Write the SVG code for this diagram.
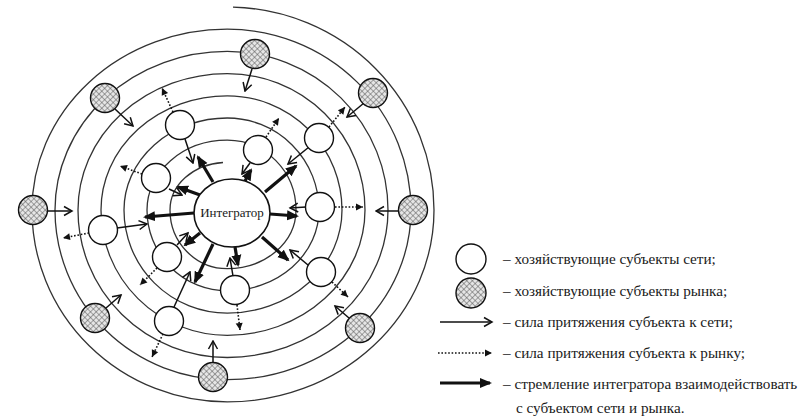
<svg xmlns="http://www.w3.org/2000/svg" width="811" height="417" viewBox="0 0 811 417">
  <style>
    .spiral { fill: none; stroke: #333; stroke-width: 1.3; }
    .net { fill: #fff; stroke: #111; stroke-width: 1.4; }
    .mkt { fill: url(#hatch); stroke: #111; stroke-width: 1.4; }
    .hub { fill: #fff; stroke: #111; stroke-width: 1.6; }
    .pull-net { fill: none; stroke: #111; stroke-width: 1.5; marker-end: url(#open); }
    .pull-mkt { fill: none; stroke: #111; stroke-width: 1.6; stroke-dasharray: 1.6 1.8; marker-end: url(#dot-head); }
    .drive { fill: none; stroke: #111; stroke-width: 3.2; marker-end: url(#bold-head); }
    text { font-family: "Liberation Serif", "Times New Roman", serif; fill: #1a1a1a; }
    .hub-label { font-size: 13px; text-anchor: middle; }
    .legend { font-size: 15.2px; }
  </style>
  <defs>
    <pattern id="hatch" width="4" height="4" patternUnits="userSpaceOnUse" patternTransform="rotate(45)">
      <rect width="4" height="4" fill="#e6e6e6"/>
      <path d="M0,0 H4 M0,0 V4" stroke="#555" stroke-width="1"/>
    </pattern>
    <marker id="open" viewBox="0 0 12 12" markerWidth="12" markerHeight="12" refX="10.5" refY="6" orient="auto" markerUnits="userSpaceOnUse">
      <path d="M2.5,1.5 L10.5,6 L2.5,10.5" fill="none" stroke="#111" stroke-width="1.5"/>
    </marker>
    <marker id="dot-head" viewBox="0 0 10 10" markerWidth="10" markerHeight="10" refX="8" refY="5" orient="auto" markerUnits="userSpaceOnUse">
      <path d="M1,1.5 L8,5 L1,8.5 z" fill="#111"/>
    </marker>
    <marker id="bold-head" viewBox="0 0 14 14" markerWidth="14" markerHeight="14" refX="10" refY="7" orient="auto" markerUnits="userSpaceOnUse">
      <path d="M0,2 L12,7 L0,12 z" fill="#111"/>
    </marker>
  </defs>

  <rect width="811" height="417" fill="#fff"/>

  <!-- orbit spiral, drawn as quarter-ellipse segments winding inwards -->
  <path class="spiral" d="M233,7.1
    A206.75,203 0 0 1 434,210
    A206.75,191.9 0 0 1 227.25,401.9
    A195.25,191.9 0 0 1 32,210
    A195.25,180.8 0 0 1 227.25,29.2
    A183.75,180.8 0 0 1 411,210
    A183.75,169.7 0 0 1 227.25,379.7
    A172.25,169.7 0 0 1 55,210
    A172.25,158.6 0 0 1 227.25,51.4
    A160.75,158.6 0 0 1 388,210
    A160.75,147.5 0 0 1 227.25,357.5
    A149.25,147.5 0 0 1 78,210
    A149.25,136.4 0 0 1 227.25,73.6
    A137.75,136.4 0 0 1 365,210
    A137.75,125.3 0 0 1 227.25,335.3
    A126.25,125.3 0 0 1 101,210
    A126.25,114.2 0 0 1 227.25,95.8
    A114.75,114.2 0 0 1 342,210
    A114.75,103.1 0 0 1 227.25,313.1
    A103.25,103.1 0 0 1 124,210
    A103.25,92 0 0 1 227.25,118
    A91.75,92 0 0 1 319,210
    A91.75,80.9 0 0 1 227.25,290.9
    A80.25,80.9 0 0 1 147,210
    A80.25,69.8 0 0 1 227.25,140.2
    A68.75,69.8 0 0 1 296,210
    A68.75,58.7 0 0 1 227.25,268.7
    A57.25,58.7 0 0 1 170,210
    A57.25,47.6 0 0 1 223,162.5"/>

  <!-- connectors -->
  <g id="connectors">
    <!-- market subjects pulled towards the network -->
    <line class="pull-net" x1="252" y1="69" x2="245" y2="91"/>
    <line class="pull-net" x1="115" y1="109" x2="133" y2="126"/>
    <line class="pull-net" x1="364" y1="103" x2="347" y2="117"/>
    <line class="pull-net" x1="48" y1="211" x2="72" y2="211"/>
    <line class="pull-net" x1="398" y1="211" x2="376" y2="211"/>
    <line class="pull-net" x1="106" y1="308" x2="121" y2="295"/>
    <line class="pull-net" x1="213" y1="363" x2="213" y2="341"/>
    <line class="pull-net" x1="349" y1="318" x2="335" y2="306"/>
    <!-- network subjects pulled towards the network core -->
    <line class="pull-net" x1="185" y1="139" x2="193" y2="163"/>
    <line class="pull-net" x1="250" y1="163" x2="242" y2="174"/>
    <line class="pull-net" x1="309" y1="147" x2="288" y2="164"/>
    <line class="pull-net" x1="169" y1="189" x2="182" y2="195"/>
    <line class="pull-net" x1="306" y1="207" x2="290" y2="208"/>
    <line class="pull-net" x1="117" y1="228" x2="147" y2="224"/>
    <line class="pull-net" x1="177" y1="245" x2="188" y2="233"/>
    <line class="pull-net" x1="233" y1="276" x2="230" y2="258"/>
    <line class="pull-net" x1="308" y1="265" x2="290" y2="250"/>
    <line class="pull-net" x1="174" y1="307" x2="190" y2="272"/>
    <!-- network subjects pulled towards the market -->
    <line class="pull-mkt" x1="173" y1="112" x2="162" y2="88"/>
    <line class="pull-mkt" x1="266" y1="137" x2="279" y2="118"/>
    <line class="pull-mkt" x1="329" y1="127" x2="345" y2="107"/>
    <line class="pull-mkt" x1="142" y1="174" x2="120" y2="166"/>
    <line class="pull-mkt" x1="335" y1="207" x2="363" y2="207"/>
    <line class="pull-mkt" x1="89" y1="233" x2="63" y2="238"/>
    <line class="pull-mkt" x1="157" y1="268" x2="140" y2="285"/>
    <line class="pull-mkt" x1="237" y1="305" x2="240" y2="330"/>
    <line class="pull-mkt" x1="332" y1="282" x2="348" y2="297"/>
    <line class="pull-mkt" x1="163" y1="334" x2="152" y2="357"/>
    <!-- integrator reaching out -->
    <line class="drive" x1="213" y1="182" x2="198" y2="157"/>
    <line class="drive" x1="244" y1="183" x2="251" y2="170"/>
    <line class="drive" x1="265" y1="192" x2="296" y2="166"/>
    <line class="drive" x1="200" y1="195" x2="178" y2="187"/>
    <line class="drive" x1="194" y1="213" x2="145" y2="217"/>
    <line class="drive" x1="270" y1="214" x2="297" y2="216"/>
    <line class="drive" x1="200" y1="233" x2="185" y2="245"/>
    <line class="drive" x1="213" y1="244" x2="195" y2="282"/>
    <line class="drive" x1="235" y1="247" x2="238" y2="265"/>
    <line class="drive" x1="262" y1="237" x2="288" y2="260"/>
  </g>

  <!-- integrator -->
  <g id="integrator">
    <ellipse class="hub" cx="232" cy="213" rx="38" ry="34"/>
    <text class="hub-label" x="232" y="217">Интегратор</text>
  </g>

  <!-- network subjects -->
  <g id="net-a"><circle class="net" cx="180" cy="125" r="14.5"/></g>
  <g id="net-b"><circle class="net" cx="258" cy="150" r="14.5"/></g>
  <g id="net-c"><circle class="net" cx="319" cy="138" r="14.5"/></g>
  <g id="net-d"><circle class="net" cx="156" cy="178" r="14.5"/></g>
  <g id="net-e"><circle class="net" cx="320" cy="207" r="14.5"/></g>
  <g id="net-f"><circle class="net" cx="103" cy="230" r="14.5"/></g>
  <g id="net-g"><circle class="net" cx="167" cy="257" r="14.5"/></g>
  <g id="net-h"><circle class="net" cx="235" cy="290" r="14.5"/></g>
  <g id="net-i"><circle class="net" cx="321" cy="272" r="14.5"/></g>
  <g id="net-j"><circle class="net" cx="169" cy="321" r="14.5"/></g>

  <!-- market subjects -->
  <g id="mkt-top"><circle class="mkt" cx="255" cy="54" r="14.5"/></g>
  <g id="mkt-top-left"><circle class="mkt" cx="105" cy="98" r="14.5"/></g>
  <g id="mkt-top-right"><circle class="mkt" cx="373" cy="93" r="14.5"/></g>
  <g id="mkt-left"><circle class="mkt" cx="33" cy="210" r="14.5"/></g>
  <g id="mkt-right"><circle class="mkt" cx="413" cy="210" r="14.5"/></g>
  <g id="mkt-bottom-left"><circle class="mkt" cx="95" cy="318" r="14.5"/></g>
  <g id="mkt-bottom"><circle class="mkt" cx="213" cy="377" r="14.5"/></g>
  <g id="mkt-bottom-right"><circle class="mkt" cx="360" cy="328" r="14.5"/></g>

  <!-- legend -->
  <g id="legend">
    <circle class="net" cx="471" cy="259" r="15"/>
    <circle class="mkt" cx="471" cy="293" r="15"/>
    <line class="pull-net" x1="440" y1="322" x2="492" y2="322"/>
    <line class="pull-mkt" x1="438" y1="353" x2="492" y2="353"/>
    <line class="drive" x1="440" y1="383" x2="490" y2="383"/>
    <text class="legend" x="503" y="264">– хозяйствующие субъекты сети;</text>
    <text class="legend" x="503" y="296">– хозяйствующие субъекты рынка;</text>
    <text class="legend" x="503" y="327">– сила притяжения субъекта к сети;</text>
    <text class="legend" x="503" y="358">– сила притяжения субъекта к рынку;</text>
    <text class="legend" x="503" y="389">– стремление интегратора взаимодействовать</text>
    <text class="legend" x="516" y="413">с субъектом сети и рынка.</text>
  </g>
</svg>
